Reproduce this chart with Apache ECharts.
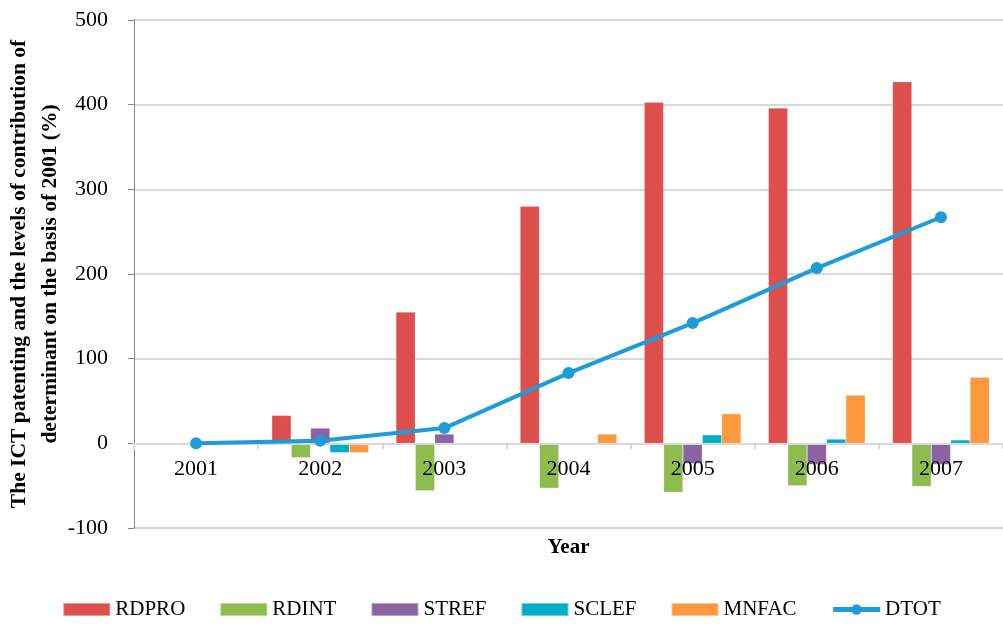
<!DOCTYPE html>
<html>
<head>
<meta charset="utf-8">
<script src="https://cdn.jsdelivr.net/npm/echarts@6/dist/echarts.min.js"></script>
<style>
  html, body { margin: 0; padding: 0; background: #fff; }
  #chart { width: 1003px; height: 626px; }
</style>
</head>
<body>
<div id="chart"></div>
<script>
  // years on the x axis
  const years = ['2001', '2002', '2003', '2004', '2005', '2006', '2007'];

  // contribution of each determinant (%)
  const rdpro = [0, 33, 155, 280, 403, 396, 427];
  const rdint = [0, -17, -56, -53, -58, -50, -51];
  const stref = [0, 18, 11, -2, -24, -25, -25];
  const sclef = [0, -11, -2, 0, 10, 5, 4];
  const mnfac = [0, -11, 0, 11, 35, 57, 78];
  const dtot = [0, 3, 18, 83, 142, 207, 267];

  const yTicks = [-100, 0, 100, 200, 300, 400, 500];

  const font = '"Liberation Serif", "Times New Roman", serif';
  let colors = ['#dc4f4c', '#8fbc4f', '#8b63a3', '#00adc7', '#fe9a3d', '#1d9cd8'];

  let chart = echarts.init(document.getElementById('chart'));

  function barSeries(name, data) {
    return {
      name: name,
      type: 'bar',
      data: data,
      barGap: '0%',
      barCategoryGap: '22%',
      itemStyle: { borderColor: 'rgba(255,255,255,0.4)', borderWidth: 0.5 }
    };
  }

  let option = {
    animation: false,
    color: colors,
    textStyle: { fontFamily: font },
    grid: { left: 134, right: 0, top: 20, bottom: 98, containLabel: false, outerBoundsMode: 'none' },
    legend: {
      bottom: 1,
      left: 'center',
      itemWidth: 47,
      itemHeight: 13,
      itemGap: 34,
      textStyle: { fontFamily: font, fontSize: 21, color: '#000' },
      data: [
        { name: 'RDPRO', icon: 'rect' },
        { name: 'RDINT', icon: 'rect' },
        { name: 'STREF', icon: 'rect' },
        { name: 'SCLEF', icon: 'rect' },
        { name: 'MNFAC', icon: 'rect' },
        { name: 'DTOT', lineStyle: { width: 5 } }
      ]
    },
    xAxis: {
      type: 'category',
      data: years,
      z: 10,
      name: 'Year',
      nameLocation: 'middle',
      nameGap: 9,
      nameMoveOverlap: false,
      nameTextStyle: { fontFamily: font, fontSize: 21, fontWeight: 'bold', color: '#000' },
      axisLine: { onZero: true, lineStyle: { color: '#d9d9d9', width: 2 } },
      axisTick: { show: true, length: 6, lineStyle: { color: '#d9d9d9', width: 2 } },
      // labels sit just under the zero line, as in the original
      axisLabel: { fontFamily: font, fontSize: 22, color: '#000', margin: -70 }
    },
    yAxis: {
      type: 'value',
      min: yTicks[0],
      max: yTicks[yTicks.length - 1],
      interval: 100,
      name: 'The ICT patenting and the levels of contribution of\ndeterminant on the basis of 2001 (%)',
      nameLocation: 'middle',
      nameRotate: 90,
      nameGap: 68,
      nameMoveOverlap: false,
      nameTextStyle: { fontFamily: font, fontSize: 21.5, fontWeight: 'bold', color: '#000', lineHeight: 31 },
      axisLine: { show: true, lineStyle: { color: '#868686', width: 1 } },
      axisTick: { show: true, length: 6, lineStyle: { color: '#868686' } },
      axisLabel: { fontFamily: font, fontSize: 22, color: '#000', margin: 26 },
      splitLine: { lineStyle: { color: '#d9d9d9', width: 2 } }
    },
    series: [
      barSeries('RDPRO', rdpro),
      barSeries('RDINT', rdint),
      barSeries('STREF', stref),
      barSeries('SCLEF', sclef),
      barSeries('MNFAC', mnfac),
      {
        name: 'DTOT',
        type: 'line',
        data: dtot,
        symbol: 'circle',
        symbolSize: 12,
        lineStyle: { width: 4 },
        z: 20
      }
    ]
  };

  chart.setOption(option);
</script>
</body>
</html>
